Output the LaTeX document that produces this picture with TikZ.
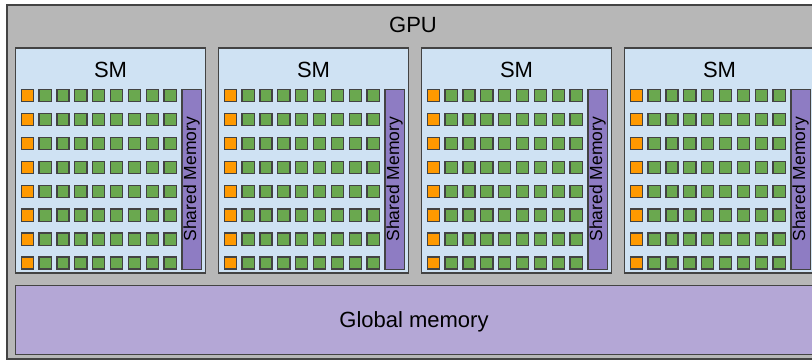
\documentclass[tikz,border=0pt]{standalone}
\usepackage{fontspec}
\setmainfont{Liberation Sans}
\definecolor{gpugray}{HTML}{B7B7B7}
\definecolor{edgegray}{HTML}{434343}
\definecolor{smblue}{HTML}{CFE2F3}
\definecolor{coreorange}{HTML}{FF9900}
\definecolor{coregreen}{HTML}{6AA84F}
\definecolor{shmpurple}{HTML}{8E7CC3}
\definecolor{glpurple}{HTML}{B4A7D6}
\tikzset{
  gpubox/.style={draw=edgegray, fill=gpugray, line width=2pt},
  smbox/.style={draw=edgegray, fill=smblue, line width=1.3pt},
  corebox/.style={draw=edgegray, line width=1.3pt, minimum width=12.2pt, minimum height=12.2pt, inner sep=0pt, outer sep=0pt, anchor=center},
  ctrlcore/.style={corebox, fill=coreorange},
  alucore/.style={corebox, fill=coregreen},
  shmbox/.style={draw=edgegray, fill=shmpurple, line width=1.2pt},
  glbox/.style={draw=edgegray, fill=glpurple, line width=1.5pt},
  bigtext/.style={font=\fontsize{22}{24}\selectfont, text=black},
  shmtext/.style={font=\fontsize{17.5}{19}\selectfont, text=black, rotate=90}
}
\begin{document}
\begin{tikzpicture}[x=1pt, y=-1pt]
\useasboundingbox (0,0) rectangle (812,360);
\clip (0,0) rectangle (812,360);
\draw[gpubox] (7,5) rectangle (822,359);
\node[bigtext] (gpulabel) at (413,25) {GPU};
\foreach \i in {0,1,2,3} {
  \pgfmathsetmacro{\xo}{15.5+203*\i}
  \draw[smbox] (\xo,48) rectangle (\xo+190,273);
  \node[bigtext] (smlabel\i) at (\xo+95,70) {SM};
  \foreach \j in {0,...,7} {
    \node[ctrlcore] (c\i-\j-0) at (\xo+11.8,95.7+23.9*\j) {};
    \foreach \k in {1,...,8} {
      \node[alucore] (c\i-\j-\k) at (\xo+11.8+17.85*\k,95.7+23.9*\j) {};
    }
  }
  \draw[shmbox] (\xo+166.5,89.3) rectangle (\xo+185.8,269.3);
  \node[shmtext] (shm\i) at (\xo+176.2,179.3) {Shared Memory};
}
\draw[glbox] (15.5,285.5) rectangle (820,354.5);
\node[bigtext] (glabel) at (414,321.5) {Global memory};
\end{tikzpicture}
\end{document}
